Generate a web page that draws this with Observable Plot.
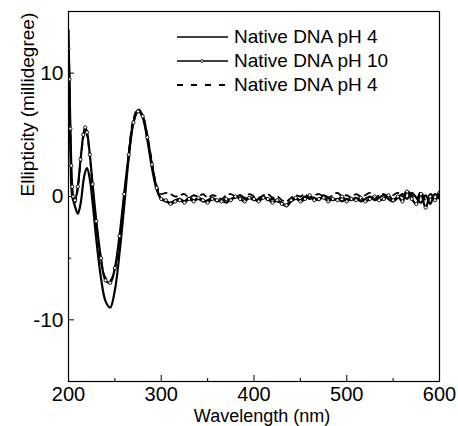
<!DOCTYPE html>
<html><head><meta charset="utf-8">
<script src="https://cdn.jsdelivr.net/npm/d3@7"></script>
<script src="https://cdn.jsdelivr.net/npm/@observablehq/plot@0.6"></script>
<style>
body{margin:0;background:#fff;}
#wrap{position:relative;width:458px;height:426px;font-family:"Liberation Sans",Arial,sans-serif;}
#legend{position:absolute;left:177px;top:25px;}
.row{display:flex;align-items:center;height:24px;font-size:19px;color:#000;white-space:nowrap;}
.row svg{margin-right:6px;display:block}
</style></head>
<body><div id="wrap"><div id="chart"></div><div id="legend"></div></div>
<script>
const wavelengths = [200,201,202,203,204,205,207,210,213,216,218,220,223,226,230,235,240,245,250,255,260,265,270,275,280,285,290,295,300,
  305,310,315,320,325,330,335,340,345,350,355,360,365,370,375,380,385,390,395,400,405,410,415,420,425,430,435,440,445,450,
  455,460,465,470,475,480,485,490,495,500,505,510,515,520,525,530,535,540,545,550,555,560,565,570,575,580,585,590,595,600];

const seriesNames = ["Native DNA pH 4", "Native DNA pH 10", "Native DNA pH 4"];

const valuesPH4 = [13.5,9,4,1,0,-0.3,-0.8,-1.4,-0.6,1.2,2.0,2.3,1.4,-0.5,-3.5,-6.6,-8.5,-9.0,-7.6,-4.6,-0.8,3.2,6.0,7.0,6.4,4.6,2.3,0.6,-0.2,
  -0.4,-0.5,-0.3,-0.2,-0.4,-0.1,-0.3,-0.2,-0.4,-0.3,-0.1,-0.4,-0.3,-0.5,-0.2,-0.1,0.1,-0.2,-0.1,-0.3,-0.2,0.0,-0.3,-0.2,-0.4,-0.5,-0.8,-0.4,-0.2,-0.3,
  0.0,-0.2,-0.1,-0.3,0.1,-0.1,-0.3,-0.2,-0.4,-0.2,-0.3,-0.1,-0.4,-0.2,0.0,-0.3,-0.1,0.1,-0.2,-0.4,-0.1,0.2,-0.2,0.3,-0.1,-0.5,0.1,-0.6,0.2,-0.2];

const valuesPH10 = [12,9.5,5.5,2.5,0.8,0,-0.3,0.8,3.0,5.0,5.6,5.2,3.4,1.0,-2.0,-5.0,-6.8,-7.0,-5.8,-3.2,0.2,3.4,6.0,6.9,6.5,4.8,2.6,0.7,-0.2,
  -0.3,-0.6,-0.4,-0.3,-0.5,-0.2,-0.4,-0.1,-0.3,-0.5,-0.2,-0.3,-0.4,-0.2,-0.3,0.0,-0.2,-0.4,-0.1,-0.2,-0.4,-0.1,-0.2,-0.5,-0.3,-0.6,-0.7,-0.3,-0.1,-0.4,
  -0.2,0.1,-0.3,-0.2,-0.1,-0.4,-0.2,-0.3,0.0,-0.4,-0.2,-0.3,-0.1,-0.4,-0.2,0.0,-0.3,-0.2,0.1,-0.3,0.0,-0.4,0.4,-0.2,-0.6,0.2,-0.9,0.0,-0.3,0.3];

const valuesPH4b = [7.5,8,5,2,0.5,-0.2,-0.5,0.6,2.8,4.8,5.4,5.0,3.2,0.8,-2.2,-5.2,-6.6,-6.8,-5.9,-3.4,0.0,3.6,6.3,7.1,6.6,5.0,2.8,0.9,0.2,
  0.3,0.2,0.0,0.1,0.2,-0.1,0.1,0.0,0.2,-0.1,0.1,0.0,-0.2,0.1,0.2,0.0,0.1,-0.1,0.2,0.0,-0.1,0.1,0.2,-0.1,0.0,-0.3,-0.4,-0.1,0.1,0.0,
  0.2,-0.1,0.1,0.2,0.0,-0.1,0.1,0.3,0.0,0.1,-0.1,0.2,0.0,0.1,0.3,-0.1,0.1,0.2,0.0,0.1,0.3,0.0,0.5,0.1,-0.2,0.4,-0.3,0.2,0.0,0.4];

const xTicks = [200,300,400,500,600];
const xMinorTicks = [250,350,450,550];
const yTicks = [-10,0,10];
const yMinorTicks = [-5,5];
const xLabel = "Wavelength (nm)";
const yLabel = "Ellipticity (millidegree)";

const rows = (vals) => wavelengths.map((w, i) => ({w, v: vals[i]}));
const dA = rows(valuesPH4), dB = rows(valuesPH10), dC = rows(valuesPH4b);
const FONT = '"Liberation Sans", Arial, sans-serif';
const blank = () => "";

const chart = Plot.plot({
  width: 458, height: 426,
  marginLeft: 68, marginTop: 11, marginRight: 19, marginBottom: 45,
  x: {domain: [200, 600], label: null},
  y: {domain: [-15, 15], label: null},
  style: {fontFamily: FONT, fontSize: "20px", color: "#000", background: "#fff", overflow: "visible"},
  marks: [
    Plot.axisX(xTicks, {tickSize: 0, tickPadding: 5, fontSize: 20, label: null}),
    Plot.axisX(xTicks, {tickSize: 6, dy: -6, tickFormat: blank, label: null}),
    Plot.axisX(xMinorTicks, {tickSize: 3, dy: -3, tickFormat: blank, label: null}),
    Plot.axisY(yTicks, {tickSize: 0, tickPadding: 5, fontSize: 21, tickFormat: d => String(d), label: null}),
    Plot.axisY(yTicks, {tickSize: 6, dx: 6, tickFormat: blank, label: null}),
    Plot.axisY(yMinorTicks, {tickSize: 3, dx: 3, tickFormat: blank, label: null}),
    Plot.line(dC, {x: "w", y: "v", stroke: "#000", strokeWidth: 1.8, strokeDasharray: "6,5", curve: "catmull-rom", clip: true}),
    Plot.line(dA, {x: "w", y: "v", stroke: "#000", strokeWidth: 2.2, curve: "catmull-rom", clip: true}),
    Plot.line(dB, {x: "w", y: "v", stroke: "#000", strokeWidth: 2.2, curve: "catmull-rom", clip: true}),
    Plot.dot(dB, {x: "w", y: "v", r: 1.6, fill: "#fff", stroke: "#000", strokeWidth: 0.9, clip: true}),
    Plot.frame({stroke: "#000", strokeWidth: 1.2}),
    Plot.text([xLabel], {frameAnchor: "bottom", dy: 40, dx: 8, fontSize: 18, fill: "#000"}),
    Plot.text([yLabel], {frameAnchor: "left", dx: -41, rotate: -90, fontSize: 19, fill: "#000"})
  ]
});
document.getElementById("chart").appendChild(chart);

// legend
const legend = d3.select("#legend");
seriesNames.forEach((name, i) => {
  const row = legend.append("div").attr("class", "row");
  const svg = row.append("svg").attr("width", 51).attr("height", 10);
  const ln = svg.append("line").attr("x1", 0).attr("x2", 51).attr("y1", 5).attr("y2", 5)
    .attr("stroke", "#000").attr("stroke-width", 1.6);
  if (i === 2) ln.attr("stroke-dasharray", "6,8").attr("stroke-width", 1.8);
  if (i === 1) svg.append("circle").attr("cx", 25).attr("cy", 5).attr("r", 1.4)
    .attr("fill", "#fff").attr("stroke", "#000").attr("stroke-width", 0.8);
  row.append("span").text(name);
});
</script>
</body></html>
